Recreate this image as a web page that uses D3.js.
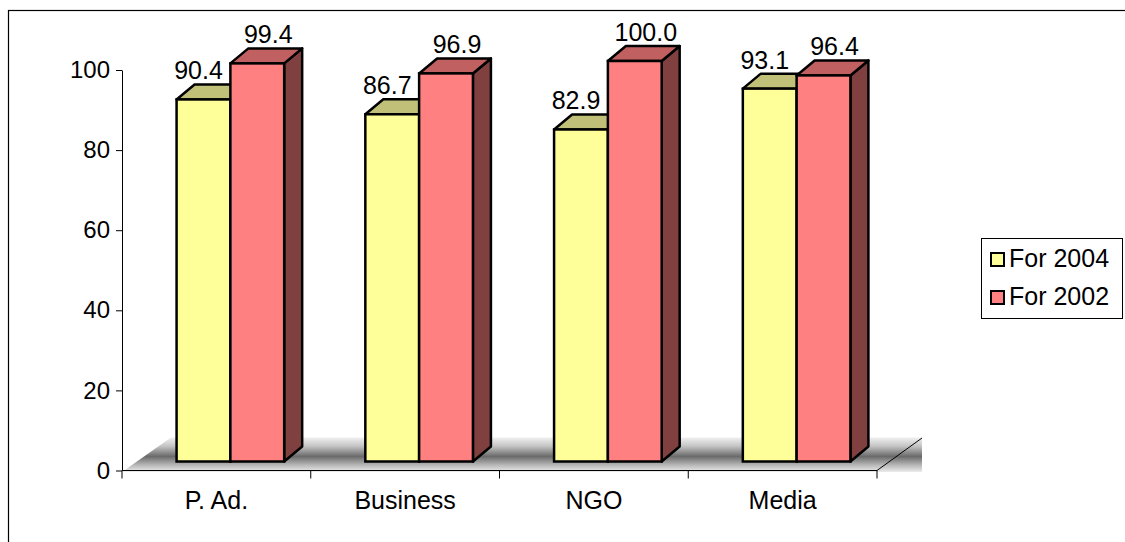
<!DOCTYPE html>
<html>
<head>
<meta charset="utf-8">
<script src="https://cdn.jsdelivr.net/npm/d3@7"></script>
<style>
  html, body { margin: 0; padding: 0; background: #fff; }
  svg { display: block; font-family: "Liberation Sans", Arial, sans-serif; }
</style>
</head>
<body>
<svg id="chart" width="1125" height="542"></svg>
<script>
// Chart data
const categories = ["P. Ad.", "Business", "NGO", "Media"];
const seriesNames = ["For 2004", "For 2002"];
const values2004 = [90.4, 86.7, 82.9, 93.1];
const values2002 = [99.4, 96.9, 100.0, 96.4];
const yTicks = [0, 20, 40, 60, 80, 100];

const seriesValues = [values2004, values2002];
const palette = [
  { front: "#FFFF99", top: "#C0C078", side: "#808050" },
  { front: "#FF8080", top: "#C06060", side: "#804040" }
];

const svg = d3.select("#chart");
const W = 1125, H = 542;

// Plot geometry (oblique 3-D look)
const plot = { left: 122, right: 877, top: 70, bottom: 470.5 };
const floorDepth = { dx: 49, dy: 33 };   // depth of the floor
const barShift = { dx: 14, dy: 9 };      // bars stand inside the floor
const barDepth = { dx: 18, dy: 15 };     // depth of each box

const x = d3.scaleBand().domain(categories).range([plot.left, plot.right]).paddingInner(0).paddingOuter(0);
const y = d3.scaleLinear().domain([0, 100]).range([plot.bottom, plot.top]);

const groupWidth = x.bandwidth() * 0.57;
const xs = d3.scaleBand().domain(seriesNames).range([0, groupWidth]).padding(0);

// Outer chart frame
svg.append("rect")
  .attr("x", 8.5).attr("y", 10.5)
  .attr("width", W + 20).attr("height", H + 20)
  .attr("fill", "none").attr("stroke", "#000").attr("stroke-width", 1.2);

// Floor gradient
const defs = svg.append("defs");
const grad = defs.append("linearGradient").attr("id", "floorGrad")
  .attr("x1", 0).attr("y1", 0).attr("x2", 0).attr("y2", 1);
grad.append("stop").attr("offset", "0%").attr("stop-color", "#f0f0f0");
grad.append("stop").attr("offset", "25%").attr("stop-color", "#c4c4c4");
grad.append("stop").attr("offset", "55%").attr("stop-color", "#6a6a6a");
grad.append("stop").attr("offset", "80%").attr("stop-color", "#b8b8b8");
grad.append("stop").attr("offset", "100%").attr("stop-color", "#ececec");

const floorTop = plot.bottom - floorDepth.dy;
const floorBottom = plot.bottom + 1.5;
const floorRight = plot.right + floorDepth.dx - 4;
svg.append("polygon")
  .attr("points", [
    [plot.left, floorBottom],
    [plot.left + floorDepth.dx, floorTop],
    [floorRight, floorTop],
    [floorRight, floorBottom]
  ].map(p => p.join(",")).join(" "))
  .attr("fill", "url(#floorGrad)");

// Right edge of the floor
svg.append("line")
  .attr("x1", plot.right).attr("y1", plot.bottom)
  .attr("x2", plot.right + floorDepth.dx - 4).attr("y2", floorTop + 0.5)
  .attr("stroke", "#000").attr("stroke-width", 1);

// Y axis
const yAxis = d3.axisLeft(y).tickValues(yTicks).tickSize(6).tickPadding(6).tickSizeOuter(0);
const gy = svg.append("g").attr("transform", `translate(${plot.left},0)`).call(yAxis);
gy.select(".domain").attr("stroke", "#000").attr("stroke-width", 1);
gy.selectAll(".tick line").attr("stroke", "#000");
gy.selectAll(".tick text").attr("font-size", 24).attr("fill", "#000")
  .attr("font-family", "'Liberation Sans', Arial, sans-serif");

// X axis: line along the front edge with ticks at category boundaries
const gx = svg.append("g");
gx.append("line")
  .attr("x1", plot.left).attr("x2", plot.right)
  .attr("y1", plot.bottom).attr("y2", plot.bottom)
  .attr("stroke", "#000").attr("stroke-width", 1.2);
const boundaries = categories.map(c => x(c)).concat([x(categories[categories.length - 1]) + x.bandwidth()]);
gx.selectAll("line.tick").data(boundaries).join("line")
  .attr("class", "tick")
  .attr("x1", d => d).attr("x2", d => d)
  .attr("y1", plot.bottom).attr("y2", plot.bottom + 8)
  .attr("stroke", "#000").attr("stroke-width", 1);
gx.selectAll("text").data(categories).join("text")
  .attr("x", d => x(d) + x.bandwidth() / 2)
  .attr("y", plot.bottom + 38)
  .attr("text-anchor", "middle")
  .attr("font-size", 25)
  .attr("fill", "#000")
  .text(d => d);

// Bars drawn as boxes: front, top and side faces
const barsG = svg.append("g");
const pts = arr => arr.map(p => p.join(",")).join(" ");
const barData = [];
categories.forEach((c, ci) => {
  seriesNames.forEach((s, si) => {
    barData.push({ cat: c, series: s, si, value: seriesValues[si][ci] });
  });
});

barData.forEach(d => {
  const groupStart = x(d.cat) + (x.bandwidth() - groupWidth) / 2 + barShift.dx;
  const x0 = groupStart + xs(d.series);
  const w = xs.bandwidth();
  const yTop = y(d.value) - barShift.dy;
  const yBot = y(0) - barShift.dy;
  const col = palette[d.si];
  const g = barsG.append("g");
  g.append("polygon")
    .attr("points", pts([[x0 + w, yTop], [x0 + w + barDepth.dx, yTop - barDepth.dy],
      [x0 + w + barDepth.dx, yBot - barDepth.dy], [x0 + w, yBot]]))
    .attr("fill", col.side).attr("stroke", "#000").attr("stroke-width", 2.5).attr("stroke-linejoin", "round");
  g.append("polygon")
    .attr("points", pts([[x0, yTop], [x0 + barDepth.dx, yTop - barDepth.dy],
      [x0 + w + barDepth.dx, yTop - barDepth.dy], [x0 + w, yTop]]))
    .attr("fill", col.top).attr("stroke", "#000").attr("stroke-width", 2.5).attr("stroke-linejoin", "round");
  g.append("rect")
    .attr("x", x0).attr("y", yTop).attr("width", w).attr("height", yBot - yTop)
    .attr("fill", col.front).attr("stroke", "#000").attr("stroke-width", 2.5);
  d.labelX = x0 + w / 2 + (d.si === 0 ? -5 : 11);
  d.labelY = yTop - barDepth.dy - 5;
});

// Value labels
svg.append("g").selectAll("text").data(barData).join("text")
  .attr("x", d => d.labelX)
  .attr("y", d => d.labelY)
  .attr("text-anchor", "middle")
  .attr("font-size", 25)
  .attr("fill", "#000")
  .text(d => d.value.toFixed(1));

// Legend
const legend = svg.append("g");
legend.append("rect")
  .attr("x", 981.5).attr("y", 238.5).attr("width", 141).attr("height", 80)
  .attr("fill", "#fff").attr("stroke", "#000").attr("stroke-width", 1);
seriesNames.forEach((s, i) => {
  const ly = 253 + i * 38;
  legend.append("rect")
    .attr("x", 991).attr("y", ly).attr("width", 13).attr("height", 13)
    .attr("fill", palette[i].front).attr("stroke", "#000").attr("stroke-width", 2);
  legend.append("text")
    .attr("x", 1009).attr("y", ly + 14)
    .attr("font-size", 25).attr("fill", "#000")
    .text(s);
});
</script>
</body>
</html>
